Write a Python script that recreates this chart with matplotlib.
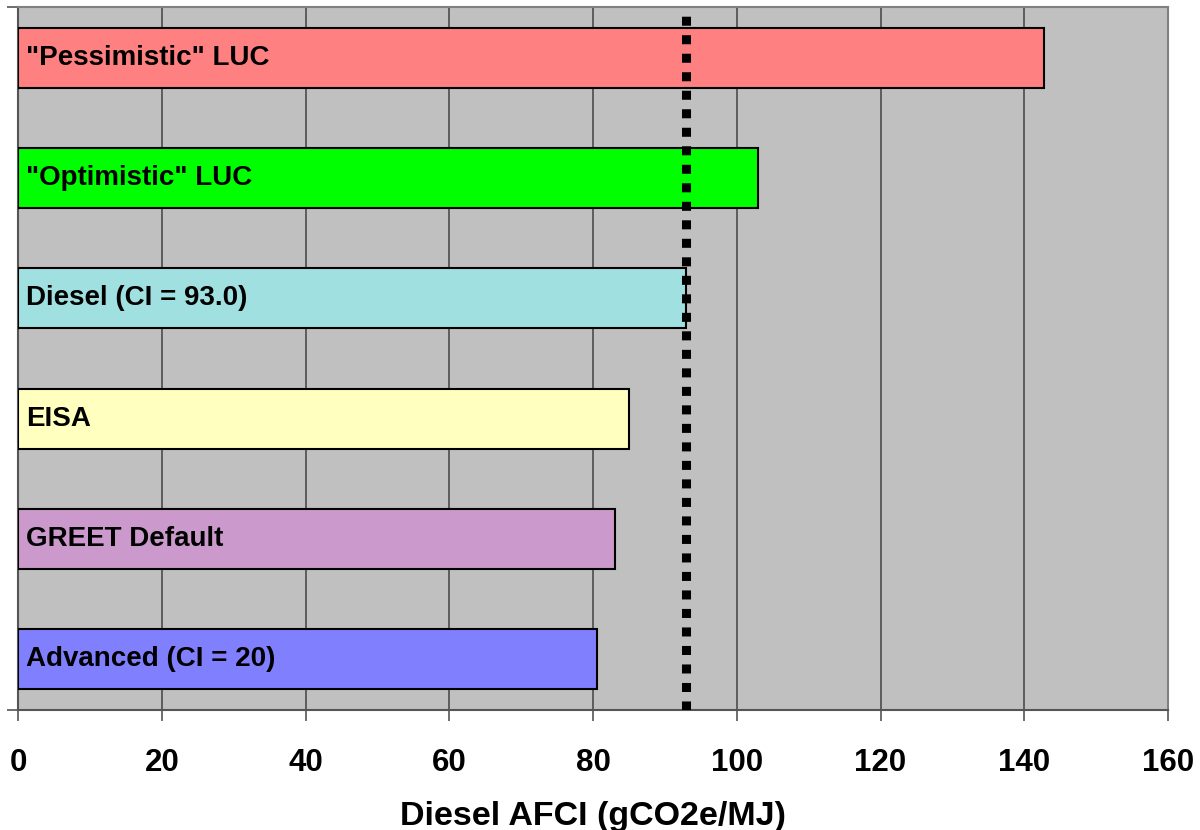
import matplotlib.pyplot as plt

# данные (снизу вверх)
labels = ['Advanced (CI = 20)', 'GREET Default', 'EISA',
          'Diesel (CI = 93.0)', '"Optimistic" LUC', '"Pessimistic" LUC']
values = [80.5, 83.0, 85.0, 93.0, 103.0, 142.7]
colors = ['#8080FF', '#CC99CC', '#FFFFC0', '#A0E0E0', '#00FF00', '#FF8080']
diesel_ci = 93.0
x_ticks = [0, 20, 40, 60, 80, 100, 120, 140, 160]

plt.rcParams['font.family'] = ['Liberation Sans', 'DejaVu Sans']

fig = plt.figure(figsize=(12, 8.3), dpi=100)
ax = fig.add_axes([18/1200, 1 - 710/830, 1150/1200, 703/830])
ax.set_facecolor('#C0C0C0')

pos = list(range(len(labels)))
ax.barh(pos, values, height=0.5, color=colors, edgecolor='black', linewidth=1.5, zorder=3)

# подписи внутри столбиков
for p, lab in zip(pos, labels):
    ax.annotate(lab, xy=(0, p), xytext=(8, 0), textcoords='offset pixels',
                ha='left', va='center', fontsize=20, fontweight='bold', zorder=5)

# пунктирная линия дизеля
ax.axvline(diesel_ci, color='black', lw=6.5, linestyle=(0, (1, 1.05)),
           dash_capstyle='butt', zorder=4)

ax.set_xlim(0, 160)
ax.set_ylim(-0.424, 5.424)
ax.set_xticks(x_ticks)
ax.set_xticklabels([str(t) for t in x_ticks], fontsize=22.5, fontweight='bold')
ax.set_yticks([-0.424, 5.424])
ax.set_yticklabels([])
ax.tick_params(axis='x', length=8, width=1.2, color='#555555', pad=19)
ax.tick_params(axis='y', length=8, width=1.2, color='#555555')
ax.grid(axis='x', color='#555555', lw=1.3, zorder=1)
ax.grid(axis='y', visible=False)

for side in ['top', 'right']:
    ax.spines[side].set_color('#808080')
    ax.spines[side].set_linewidth(1.5)
for side in ['left', 'bottom']:
    ax.spines[side].set_color('#555555')
    ax.spines[side].set_linewidth(1.5)

ax.set_xlabel('Diesel AFCI (gCO2e/MJ)', fontsize=24.5, fontweight='bold', labelpad=17)

fig.savefig('out.png', dpi=100)
